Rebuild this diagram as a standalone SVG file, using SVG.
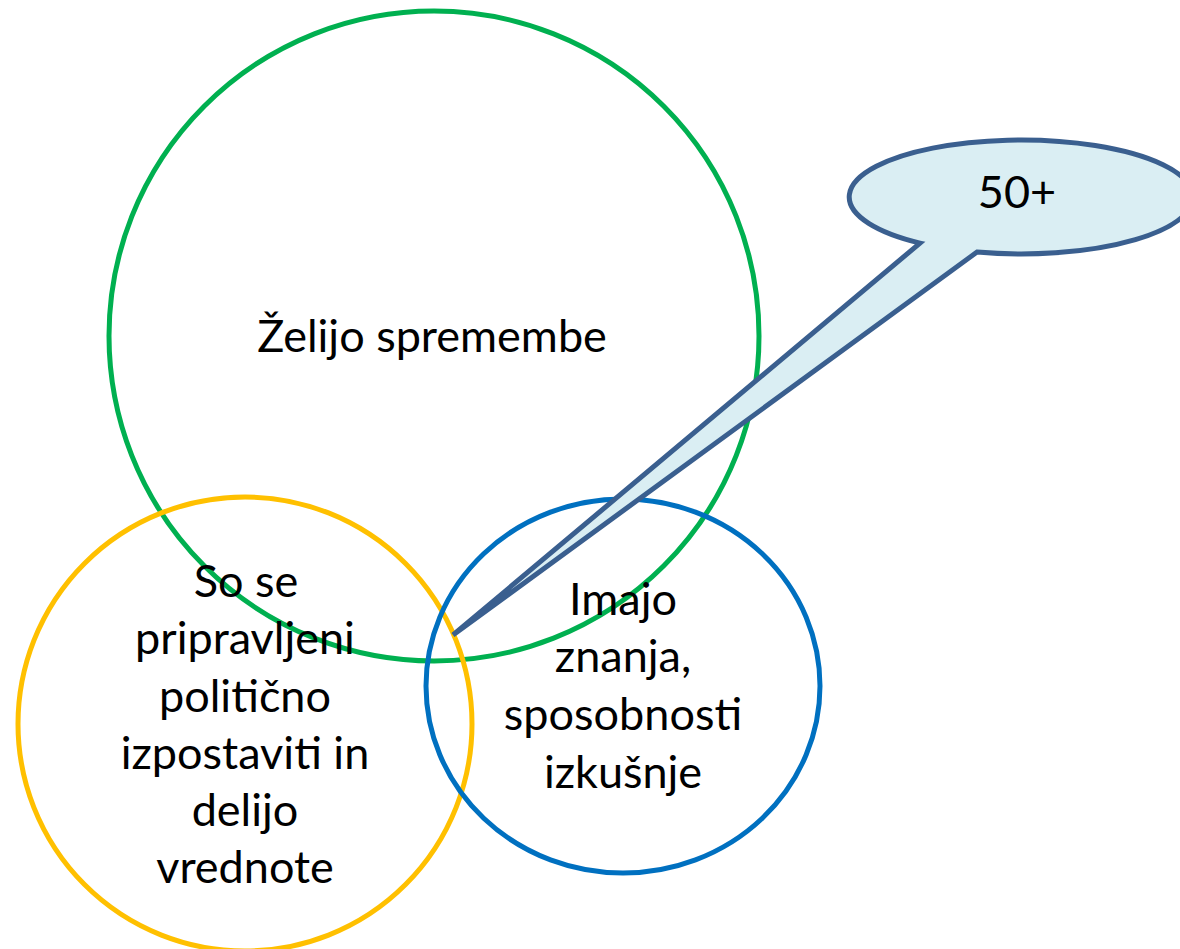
<svg xmlns="http://www.w3.org/2000/svg" width="1180" height="949" viewBox="0 0 1180 949">
<style>
.t{font-family:Lato,"Open Sans","Liberation Sans",sans-serif;font-size:45px;fill:#000;text-anchor:middle}
.ring{fill:none;stroke-width:5}
</style>
<rect width="1180" height="949" fill="#fff"/>
<g id="green">
<circle class="ring" cx="434" cy="336" r="325" stroke="#00B050"/>
<text class="t" x="432" y="352">Želijo spremembe</text>
</g>
<g id="yellow">
<circle class="ring" cx="245" cy="724" r="227" stroke="#FFC000"/>
<text class="t" x="246" y="597">So se</text>
<text class="t" x="245" y="654">pripravljeni</text>
<text class="t" x="245" y="712">politično</text>
<text class="t" x="245" y="769">izpostaviti in</text>
<text class="t" x="245" y="826">delijo</text>
<text class="t" x="245" y="883">vrednote</text>
</g>
<g id="blue">
<ellipse class="ring" cx="623" cy="686" rx="197" ry="187" stroke="#0070C0"/>
<text class="t" x="623" y="615">Imajo</text>
<text class="t" x="623" y="672">znanja,</text>
<text class="t" x="623" y="730">sposobnosti</text>
<text class="t" x="623" y="788">izkušnje</text>
</g>
<g id="callout">
<path d="M920,243.1 L453,635 L977,252.1 A172,57 0 1 0 920,243.1 Z" fill="#DAEEF3" stroke="#3A5F8F" stroke-width="5" stroke-linejoin="miter"/>
<text class="t" x="1017" y="208">50+</text>
</g>
<g id="connectors"></g>
</svg>
